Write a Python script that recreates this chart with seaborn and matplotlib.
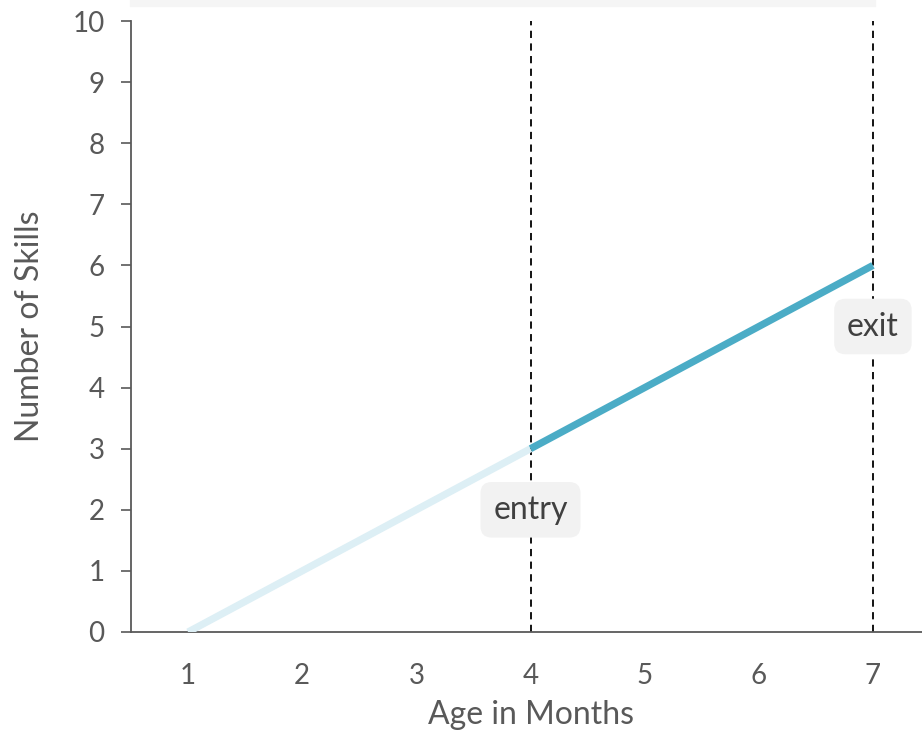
import matplotlib
matplotlib.use("Agg")
import matplotlib.pyplot as plt
import seaborn as sns
import pandas as pd
from matplotlib.patches import Rectangle

# chart values
months_before = [1, 2, 3, 4]
skills_before = [0, 1, 2, 3]
months_during = [4, 5, 6, 7]
skills_during = [3, 4, 5, 6]
entry_month = 4
exit_month = 7
x_ticks = [1, 2, 3, 4, 5, 6, 7]
y_ticks = [0, 1, 2, 3, 4, 5, 6, 7, 8, 9, 10]

sns.set_style("white")
plt.rcParams['font.family'] = ['Lato', 'DejaVu Sans']
text_col = '#595959'

fig = plt.figure(figsize=(9.22, 7.31), dpi=100)
ax = fig.add_axes([131 / 922, 1 - 632 / 731, (930 - 131) / 922, (632 - 21) / 731])

# faint title strip at top
fig.patches.append(Rectangle((130 / 922, 1 - 6 / 731), (875 - 130) / 922, 6 / 731,
                             transform=fig.transFigure, color='#f5f5f5', zorder=0))

before = pd.DataFrame({'month': months_before, 'skills': skills_before})
during = pd.DataFrame({'month': months_during, 'skills': skills_during})
sns.lineplot(data=before, x='month', y='skills', color='#ddeff5', linewidth=5.2, ax=ax,
             solid_capstyle='butt', zorder=3)
sns.lineplot(data=during, x='month', y='skills', color='#4bacc6', linewidth=5.2, ax=ax,
             solid_capstyle='butt', zorder=4)

for m in [entry_month, exit_month]:
    ax.axvline(m, color='black', linestyle=(0, (4, 3)), linewidth=1.3, zorder=2)

box = dict(boxstyle='round,pad=0.4,rounding_size=0.35', fc='#f2f2f2', ec='none')
ax.text(entry_month, 2.0, 'entry', ha='center', va='center', fontsize=23, color='#404040',
        bbox=box, zorder=5)
ax.text(exit_month, 5.0, 'exit', ha='center', va='center', fontsize=23, color='#404040',
        bbox=box, zorder=5)

ax.set_xlim(0.5, 7.5)
ax.set_ylim(0, 10)
ax.set_xticks(x_ticks)
ax.set_yticks(y_ticks)
ax.tick_params(axis='x', length=0, pad=22, labelsize=20, labelcolor=text_col)
ax.tick_params(axis='y', length=7, width=1.2, color='#595959', direction='out', pad=12,
               labelsize=20, labelcolor=text_col, left=True)
for s in ['top', 'right']:
    ax.spines[s].set_visible(False)
for s in ['left', 'bottom']:
    ax.spines[s].set_color('#595959')
    ax.spines[s].set_linewidth(1.3)
ax.set_xlabel('Age in Months', fontsize=23, color=text_col, labelpad=8)
ax.set_ylabel('Number of Skills', fontsize=23, color=text_col, labelpad=20)
ax.grid(False)

fig.savefig('out.png', dpi=100)
